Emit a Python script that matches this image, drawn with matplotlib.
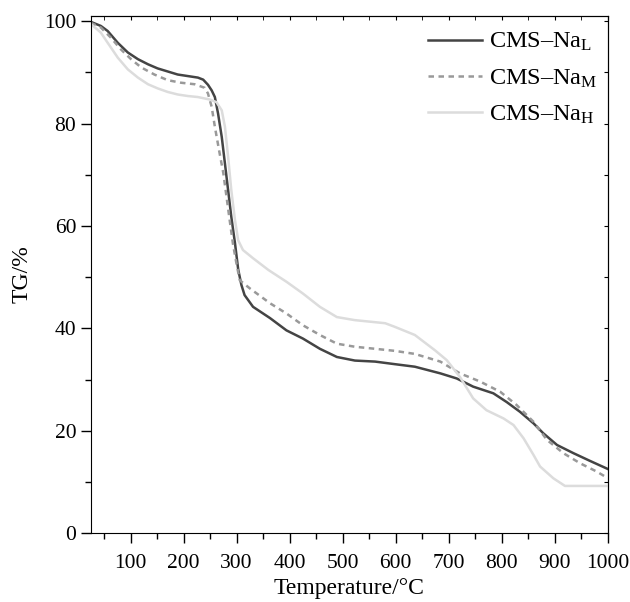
import numpy as np
import matplotlib
matplotlib.use("Agg")
import matplotlib.pyplot as plt

plt.rcParams['font.family'] = ['Liberation Serif', 'DejaVu Serif']
plt.rcParams['mathtext.fontset'] = 'custom'
plt.rcParams['mathtext.rm'] = 'Liberation Serif'
plt.rcParams['mathtext.it'] = 'Liberation Serif:italic'

# Temperature (degC) and TG (%)
temp_L = [25, 44, 57, 76, 95, 114, 133, 151, 170, 189, 208, 227, 237, 246, 253, 259,
          265, 272, 278, 284, 290, 297, 303, 309, 315, 331, 363, 394, 425, 457, 489,
          523, 561, 598, 636, 684, 715, 746, 784, 809, 834, 860, 878, 904, 935, 966, 1000]
tg_L = [99.9, 99.1, 98.1, 95.8, 93.9, 92.6, 91.6, 90.8, 90.2, 89.6, 89.3, 89.0, 88.6,
        87.6, 86.5, 85.2, 82.0, 77.4, 72.2, 67.0, 61.8, 56.6, 51.5, 48.5, 46.5, 44.2,
        42.0, 39.6, 38.0, 36.0, 34.4, 33.7, 33.5, 33.0, 32.5, 31.2, 30.2, 28.6, 27.3,
        25.6, 23.7, 21.4, 19.5, 17.2, 15.6, 14.1, 12.5]

temp_M = [25, 44, 63, 82, 101, 120, 145, 170, 195, 221, 240, 246, 253, 259, 268, 275,
          281, 287, 293, 300, 306, 325, 363, 394, 425, 457, 489, 523, 561, 598, 636,
          684, 721, 759, 797, 828, 860, 885, 916, 948, 979, 1000]
tg_M = [99.7, 98.8, 96.8, 94.5, 92.6, 91.0, 89.6, 88.5, 88.0, 87.7, 87.0, 85.9, 83.3,
        79.4, 74.2, 70.3, 65.7, 61.1, 56.6, 52.5, 49.4, 47.8, 44.9, 42.9, 40.6, 38.7,
        37.0, 36.4, 36.0, 35.6, 35.0, 33.5, 31.2, 29.6, 27.6, 25.0, 21.7, 18.2, 15.6,
        13.6, 12.0, 10.7]

temp_H = [25, 44, 57, 76, 95, 114, 133, 151, 170, 189, 208, 227, 250, 262, 272, 278,
          284, 290, 297, 303, 312, 331, 360, 394, 425, 457, 489, 523, 580, 598, 636,
          674, 696, 721, 746, 771, 803, 822, 841, 860, 872, 897, 919, 1000]
tg_H = [99.5, 97.8, 95.8, 92.9, 90.6, 89.0, 87.7, 86.9, 86.2, 85.7, 85.4, 85.2, 84.7,
        84.2, 82.6, 79.4, 73.5, 67.0, 61.1, 57.2, 55.3, 53.7, 51.4, 49.1, 46.8, 44.2,
        42.2, 41.6, 41.0, 40.3, 38.7, 35.7, 33.8, 30.5, 26.3, 24.0, 22.4, 21.1, 18.5,
        15.2, 13.0, 10.7, 9.2, 9.2]

labels = ['CMS\u2013Na$_\\mathrm{L}$', 'CMS\u2013Na$_\\mathrm{M}$', 'CMS\u2013Na$_\\mathrm{H}$']

fig = plt.figure(figsize=(6.3, 6.02), dpi=100)
ax = fig.add_axes([0.144, 0.1146, 0.821, 0.8585])

ax.plot(temp_L, tg_L, color='#444444', lw=1.8, solid_joinstyle='round', label=labels[0])
ax.plot(temp_M, tg_M, color='#999999', lw=1.8, ls=(0, (2.2, 1.8)), label=labels[1])
ax.plot(temp_H, tg_H, color='#dcdcdc', lw=1.8, solid_joinstyle='round', label=labels[2])

ax.set_xlim(25, 1000)
ax.set_ylim(0, 101)
ax.set_xticks(np.arange(100, 1001, 100))
ax.set_xticks(np.arange(50, 1001, 50), minor=True)
ax.set_yticks(np.arange(0, 101, 20))
ax.set_yticks(np.arange(0, 101, 10), minor=True)
ax.tick_params(which='both', direction='out', labelsize=15.5, width=1)
ax.tick_params(which='major', length=7)
ax.tick_params(which='minor', length=4)
ax.tick_params(axis='x', pad=8)

# inward ticks on top and right
top = ax.secondary_xaxis('top')
top.set_xticks(np.arange(100, 1001, 100))
top.set_xticks(np.arange(50, 1001, 50), minor=True)
top.tick_params(which='both', direction='in', labeltop=False, length=3)
right = ax.secondary_yaxis('right')
right.set_yticks(np.arange(0, 101, 10))
right.tick_params(which='both', direction='in', labelright=False, length=3)

ax.set_xlabel('Temperature/\u00b0C', fontsize=17, labelpad=4)
ax.set_ylabel('TG/%', fontsize=17, labelpad=8)

ax.legend(loc='upper right', bbox_to_anchor=(0.9975, 0.99), frameon=False,
          fontsize=17.5, handlelength=2.26, handletextpad=0.25,
          labelspacing=0.57, borderaxespad=0)

fig.savefig('out.png', dpi=100)
